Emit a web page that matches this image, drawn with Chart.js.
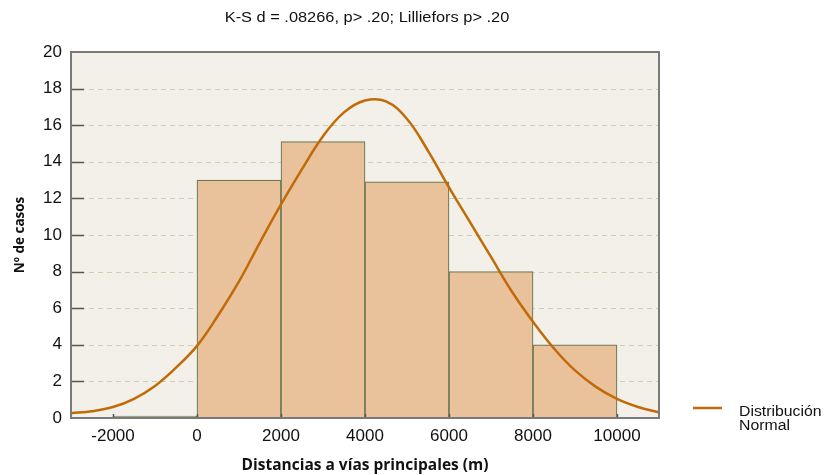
<!DOCTYPE html>
<html>
<head>
<meta charset="utf-8">
<script src="https://cdn.jsdelivr.net/npm/chart.js@4/dist/chart.umd.min.js"></script>
<style>
  html, body { margin: 0; padding: 0; background: #fff; }
  #wrap { width: 824px; height: 475px; position: relative; }
</style>
</head>
<body>
<div id="wrap"><canvas id="chart" width="824" height="475"></canvas></div>
<script>
(function () {
  'use strict';

  // histogram bins (centres) and counts
  var BIN_CENTERS = [-1000, 1000, 3000, 5000, 7000, 9000];
  var BIN_COUNTS = [0.1, 13, 15.1, 12.9, 8, 4];

  // fitted normal curve
  var CURVE_X = [-3000, -2500, -2000, -1500, -1000, -500, 0, 500, 1000, 1500, 2000, 2500, 3000, 3500, 4000, 4500, 5000, 5500, 6000, 6500, 7000, 7500, 8000, 8500, 9000, 9500, 10000, 10500, 11000];
  var CURVE_Y = [0.26, 0.37, 0.6, 1.05, 1.75, 2.75, 3.94, 5.6, 7.46, 9.6, 11.67, 13.6, 15.4, 16.7, 17.35, 17.3, 16.34, 14.6, 12.6, 10.7, 8.8, 6.9, 5.26, 3.8, 2.6, 1.7, 1.04, 0.6, 0.31];

  var X_TICKS = [-2000, 0, 2000, 4000, 6000, 8000, 10000];
  var Y_TICKS = [0, 2, 4, 6, 8, 10, 12, 14, 16, 18, 20];

  var TITLE = 'K-S d = .08266, p> .20; Lilliefors p> .20';
  var X_TITLE = 'Distancias a vías principales (m)';
  var Y_TITLE = 'Nº de casos';
  var LEGEND = ['Distribución', 'Normal'];

  var CURVE_COLOR = '#c06b08';
  var FRAME_COLOR = '#7a7a7a';
  var SANS = '"Liberation Sans", Arial, sans-serif';

  var bars = BIN_CENTERS.map(function (c, i) { return { x: c, y: BIN_COUNTS[i] }; });
  var curve = CURVE_X.map(function (x, i) { return { x: x, y: CURVE_Y[i] }; });

  function stretchedText(ctx, text, x, y, sx, align) {
    ctx.save();
    ctx.translate(x, y);
    ctx.scale(sx, 1);
    ctx.textAlign = align;
    ctx.fillText(text, 0, 0);
    ctx.restore();
  }

  /* plot background, dashed grid, inward ticks, frame, title, legend */
  var backdrop = {
    id: 'backdrop',
    beforeDatasetsDraw: function (chart) {
      var a = chart.chartArea, ctx = chart.ctx, y = chart.scales.y;
      ctx.save();
      ctx.fillStyle = '#f3f0e9';
      ctx.fillRect(a.left, a.top, a.right - a.left, a.bottom - a.top);
      ctx.strokeStyle = '#cfcdb2';
      ctx.lineWidth = 1;
      ctx.setLineDash([5, 4]);
      Y_TICKS.forEach(function (v) {
        if (v === 0 || v === 20) return;
        var py = Math.round(y.getPixelForValue(v)) + 0.5;
        ctx.beginPath(); ctx.moveTo(a.left, py); ctx.lineTo(a.right, py); ctx.stroke();
      });
      ctx.restore();
    },
    afterDatasetsDraw: function (chart) {
      var a = chart.chartArea, ctx = chart.ctx, x = chart.scales.x, y = chart.scales.y;
      ctx.save();
      ctx.strokeStyle = '#555';
      ctx.lineWidth = 1.5;
      Y_TICKS.forEach(function (v) {
        if (v === 0 || v === 20) return;
        var py = Math.round(y.getPixelForValue(v)) + 0.5;
        ctx.beginPath(); ctx.moveTo(a.left, py); ctx.lineTo(a.left + 13, py); ctx.stroke();
      });
      X_TICKS.forEach(function (v) {
        var px = Math.round(x.getPixelForValue(v)) + 0.5;
        ctx.beginPath(); ctx.moveTo(px, a.bottom); ctx.lineTo(px, a.bottom - 4); ctx.stroke();
      });
      ctx.strokeStyle = FRAME_COLOR;
      ctx.lineWidth = 2;
      ctx.strokeRect(a.left, a.top, a.right - a.left, a.bottom - a.top);
      ctx.restore();
    },
    afterDraw: function (chart) {
      var ctx = chart.ctx;
      ctx.save();
      ctx.fillStyle = '#111';
      ctx.textBaseline = 'middle';
      // title
      ctx.font = '14px ' + SANS;
      stretchedText(ctx, TITLE, 367, 18, 1.17, 'center');
      // legend
      ctx.strokeStyle = CURVE_COLOR;
      ctx.lineWidth = 2.5;
      ctx.beginPath(); ctx.moveTo(693, 408); ctx.lineTo(722, 408); ctx.stroke();
      ctx.font = '14px ' + SANS;
      stretchedText(ctx, LEGEND[0], 739, 412, 1.13, 'left');
      stretchedText(ctx, LEGEND[1], 739, 426, 1.13, 'left');
      ctx.restore();
    }
  };

  function plain(v) { return String(v); }

  new Chart(document.getElementById('chart'), {
    type: 'bar',
    data: {
      datasets: [
        {
          type: 'line', label: 'Distribución Normal', data: curve, order: 0,
          borderColor: CURVE_COLOR, borderWidth: 2.5, pointRadius: 0, tension: 0.4, fill: false
        },
        {
          type: 'bar', label: 'Casos', data: bars, order: 1,
          backgroundColor: '#e9c29c', borderColor: '#6f7a55', borderWidth: 1.2,
          borderSkipped: false, barPercentage: 1, categoryPercentage: 1
        }
      ]
    },
    options: {
      responsive: false,
      animation: false,
      layout: { padding: { left: 0, right: 165, top: 52, bottom: 0 } },
      plugins: {
        legend: { display: false },
        tooltip: { enabled: false },
        title: { display: false }
      },
      scales: {
        x: {
          type: 'linear', min: -3000, max: 11000, offset: false,
          afterBuildTicks: function (s) { s.ticks = X_TICKS.map(function (v) { return { value: v }; }); },
          grid: { display: false, drawTicks: false },
          border: { display: false },
          ticks: { color: '#111', padding: 8, maxRotation: 0, callback: plain, font: { family: SANS, size: 17 } },
          title: {
            display: true, text: X_TITLE, color: '#111', padding: { top: 2, bottom: 0 },
            font: { family: '"Open Sans", sans-serif', size: 15.5, weight: 'bold' }
          }
        },
        y: {
          type: 'linear', min: 0, max: 20,
          afterBuildTicks: function (s) { s.ticks = Y_TICKS.map(function (v) { return { value: v }; }); },
          afterFit: function (s) { s.width = 71; },
          grid: { display: false, drawTicks: false },
          border: { display: false },
          ticks: { color: '#111', padding: 9, callback: plain, font: { family: SANS, size: 17 } },
          title: {
            display: true, text: Y_TITLE, color: '#111', padding: { top: 12, bottom: 0 },
            font: { family: '"Open Sans", sans-serif', size: 13.5, weight: 'bold' }
          }
        }
      }
    },
    plugins: [backdrop]
  });
})();
</script>
</body>
</html>
